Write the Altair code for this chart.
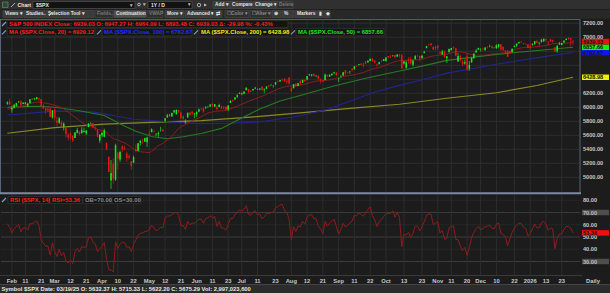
import altair as alt
import pandas as pd

FONT = "Liberation Sans"
BG = "#1c1c1c"
GRID = "#2d2d2d"
AXTXT = "#c8c8c8"
UP = "#1ee61e"
DOWN = "#e81616"

# ---------------- data ----------------
# trading-day index (0 = 2025-02-03); bars 2025-01-30 .. 2026-01-30
bar_index = list(range(-2, 250))
opens = [
    6050, 6082, 5970, 5990, 6021, 6073, 6083, 6047, 6050, 6020,
    6061, 6115, 6121, 6118, 6134, 6115, 6027, 5983, 5971, 5981,
    5857, 5968, 5812, 5781, 5786, 5726, 5705, 5604, 5624, 5595,
    5563, 5636, 5655, 5632, 5646, 5630, 5718, 5772, 5772, 5696,
    5679, 5527, 5597, 5580, 5492, 5293, 4953, 5194, 4966, 5354,
    5256, 5441, 5412, 5335, 5305, 5232, 5207, 5395, 5381, 5490,
    5530, 5508, 5500, 5626, 5645, 5655, 5606, 5618, 5663, 5679,
    5807, 5854, 5887, 5870, 5929, 5903, 5960, 5924, 5842, 5781,
    5854, 5925, 5939, 5903, 5897, 5939, 5979, 5985, 5988, 6005,
    6010, 6050, 6009, 6000, 6005, 6012, 5987, 6004, 5970, 6062,
    6105, 6112, 6151, 6193, 6187, 6193, 6246, 6259, 6238, 6244,
    6268, 6255, 6255, 6293, 6254, 6264, 6310, 6304, 6306, 6327,
    6369, 6370, 6397, 6409, 6375, 6427, 6271, 6272, 6337, 6305,
    6379, 6351, 6389, 6398, 6460, 6452, 6478, 6445, 6452, 6406,
    6384, 6389, 6458, 6441, 6458, 6489, 6497, 6408, 6444, 6456,
    6529, 6499, 6503, 6551, 6545, 6590, 6603, 6624, 6609, 6632,
    6643, 6660, 6696, 6669, 6613, 6617, 6662, 6661, 6665, 6732,
    6722, 6734, 6746, 6727, 6754, 6743, 6626, 6564, 6684, 6688,
    6608, 6686, 6736, 6734, 6701, 6774, 6845, 6896, 6910, 6864,
    6868, 6882, 6786, 6755, 6801, 6699, 6787, 6818, 6861, 6843,
    6653, 6732, 6652, 6625, 6731, 6553, 6640, 6705, 6782, 6823,
    6812, 6831, 6815, 6866, 6867, 6873, 6841, 6846, 6866, 6900,
    6866, 6813, 6810, 6802, 6788, 6865, 6880, 6914, 6935, 6915,
    6903, 6897, 6874, 6891, 6903, 6946, 6914, 6932, 6944, 6977,
    6937, 6970, 6960, 6853, 6803, 6900, 6890, 6925, 6962, 6992,
    6987, 6947]
highs = [
    6086, 6120, 6022, 6043, 6063, 6084, 6101, 6073, 6076, 6064,
    6116, 6127, 6130, 6147, 6134, 6119, 6044, 5993, 6009, 5994,
    5960, 5987, 5865, 5860, 5812, 5783, 5705, 5636, 5642, 5597,
    5646, 5704, 5659, 5715, 5711, 5670, 5775, 5787, 5776, 5732,
    5685, 5613, 5651, 5696, 5500, 5293, 5247, 5268, 5481, 5354,
    5381, 5460, 5450, 5367, 5329, 5233, 5310, 5469, 5489, 5528,
    5554, 5565, 5581, 5659, 5700, 5683, 5634, 5655, 5721, 5691,
    5845, 5907, 5906, 5925, 5959, 5968, 5962, 5938, 5879, 5830,
    5924, 5930, 5944, 5922, 5938, 5982, 5991, 5999, 6016, 6021,
    6043, 6059, 6046, 6026, 6051, 6024, 6018, 6019, 6028, 6101,
    6108, 6146, 6188, 6215, 6211, 6227, 6284, 6262, 6242, 6264,
    6291, 6269, 6271, 6302, 6268, 6300, 6316, 6336, 6316, 6360,
    6382, 6390, 6402, 6410, 6394, 6427, 6288, 6330, 6347, 6350,
    6379, 6396, 6402, 6446, 6481, 6473, 6482, 6457, 6456, 6408,
    6394, 6481, 6467, 6468, 6486, 6508, 6498, 6418, 6460, 6503,
    6533, 6508, 6513, 6555, 6589, 6601, 6616, 6626, 6639, 6657,
    6672, 6695, 6699, 6669, 6624, 6650, 6679, 6690, 6716, 6733,
    6750, 6745, 6748, 6757, 6756, 6764, 6660, 6666, 6718, 6724,
    6685, 6744, 6752, 6741, 6750, 6807, 6876, 6901, 6920, 6873,
    6871, 6885, 6796, 6820, 6808, 6733, 6838, 6847, 6869, 6844,
    6775, 6749, 6677, 6682, 6771, 6660, 6715, 6777, 6828, 6849,
    6844, 6851, 6862, 6867, 6895, 6880, 6862, 6900, 6904, 6902,
    6867, 6819, 6820, 6804, 6839, 6882, 6910, 6937, 6946, 6917,
    6912, 6902, 6910, 6915, 6945, 6965, 6933, 6978, 6986, 6986,
    6941, 6980, 6967, 6866, 6893, 6933, 6920, 6960, 6981, 7002,
    6990, 6964]
lows = [
    6035, 6031, 5923, 5988, 6010, 6061, 6020, 6045, 6043, 6004,
    6051, 6107, 6100, 6111, 6084, 6009, 5977, 5908, 5932, 5858,
    5837, 5810, 5733, 5762, 5724, 5667, 5565, 5528, 5547, 5505,
    5562, 5627, 5597, 5622, 5640, 5603, 5718, 5765, 5695, 5670,
    5573, 5489, 5572, 5571, 5390, 5070, 4835, 4911, 4949, 5115,
    5220, 5359, 5387, 5221, 5255, 5101, 5207, 5356, 5371, 5455,
    5479, 5506, 5434, 5597, 5644, 5637, 5586, 5578, 5651, 5650,
    5788, 5854, 5868, 5867, 5912, 5895, 5919, 5831, 5827, 5768,
    5854, 5885, 5879, 5843, 5861, 5931, 5967, 5922, 5978, 5994,
    6005, 6002, 6004, 5963, 6004, 5974, 5971, 5952, 5943, 6062,
    6081, 6107, 6132, 6193, 6172, 6188, 6241, 6201, 6218, 6234,
    6259, 6247, 6244, 6242, 6202, 6262, 6286, 6303, 6282, 6316,
    6357, 6366, 6376, 6360, 6331, 6327, 6212, 6272, 6290, 6301,
    6312, 6350, 6365, 6385, 6447, 6441, 6439, 6436, 6397, 6343,
    6361, 6386, 6438, 6432, 6457, 6471, 6444, 6360, 6418, 6447,
    6455, 6483, 6478, 6513, 6539, 6577, 6598, 6599, 6569, 6621,
    6637, 6660, 6651, 6627, 6583, 6611, 6644, 6658, 6651, 6702,
    6706, 6723, 6699, 6720, 6712, 6551, 6610, 6551, 6622, 6610,
    6583, 6686, 6717, 6655, 6700, 6774, 6845, 6876, 6870, 6820,
    6820, 6815, 6755, 6749, 6708, 6632, 6787, 6808, 6826, 6727,
    6647, 6658, 6589, 6610, 6525, 6522, 6640, 6691, 6782, 6822,
    6799, 6810, 6812, 6840, 6858, 6836, 6839, 6834, 6841, 6802,
    6802, 6774, 6720, 6766, 6786, 6857, 6863, 6911, 6924, 6896,
    6893, 6845, 6822, 6880, 6893, 6920, 6885, 6925, 6934, 6938,
    6885, 6934, 6925, 6790, 6777, 6890, 6885, 6925, 6957, 6966,
    6870, 6893]
closes = [
    6071, 6041, 5995, 6038, 6061, 6084, 6026, 6066, 6069, 6052,
    6115, 6115, 6130, 6144, 6118, 6013, 5983, 5955, 5956, 5862,
    5955, 5850, 5778, 5843, 5739, 5770, 5615, 5572, 5599, 5522,
    5639, 5675, 5615, 5675, 5663, 5668, 5768, 5777, 5712, 5693,
    5581, 5612, 5633, 5671, 5397, 5074, 5062, 4983, 5457, 5268,
    5363, 5406, 5397, 5276, 5283, 5158, 5288, 5376, 5485, 5525,
    5529, 5561, 5569, 5604, 5687, 5650, 5607, 5631, 5664, 5660,
    5844, 5887, 5893, 5917, 5958, 5964, 5940, 5845, 5842, 5803,
    5922, 5889, 5912, 5912, 5936, 5970, 5971, 5939, 6000, 6006,
    6039, 6022, 6045, 5977, 6033, 5983, 5981, 5968, 6025, 6092,
    6092, 6141, 6173, 6205, 6198, 6227, 6279, 6230, 6226, 6263,
    6280, 6260, 6269, 6244, 6264, 6297, 6297, 6306, 6310, 6359,
    6363, 6389, 6390, 6371, 6363, 6339, 6238, 6330, 6299, 6345,
    6340, 6389, 6373, 6446, 6467, 6469, 6450, 6449, 6411, 6396,
    6370, 6467, 6439, 6466, 6481, 6502, 6460, 6416, 6448, 6502,
    6482, 6495, 6513, 6532, 6587, 6584, 6615, 6607, 6600, 6632,
    6664, 6694, 6657, 6638, 6605, 6644, 6661, 6688, 6711, 6715,
    6716, 6740, 6715, 6754, 6735, 6553, 6655, 6644, 6671, 6629,
    6664, 6735, 6735, 6699, 6738, 6792, 6875, 6891, 6891, 6822,
    6840, 6852, 6772, 6796, 6720, 6729, 6832, 6847, 6851, 6737,
    6734, 6672, 6617, 6642, 6539, 6603, 6705, 6766, 6813, 6849,
    6813, 6829, 6850, 6857, 6870, 6847, 6841, 6887, 6901, 6827,
    6817, 6800, 6721, 6775, 6835, 6878, 6910, 6932, 6930, 6906,
    6896, 6846, 6858, 6902, 6945, 6921, 6921, 6966, 6977, 6964,
    6927, 6944, 6940, 6797, 6876, 6913, 6916, 6950, 6979, 6978,
    6969, 6939]
# closes of the sessions just before the first bar (warm-up for MA20 / RSI)
prior_closes = [5882, 5869, 5942, 5975, 5909, 5918, 5827, 5836, 5843, 5950,
                5937, 5997, 6049, 6086, 6119, 6101, 6012, 6068, 6039]

# longer moving averages
ma50_idx = [-2, 5, 12, 19, 23, 30, 41, 49, 55, 62, 69, 76, 84, 93, 102, 110,
            119, 128, 142, 157, 172, 183, 193, 204, 215, 226, 237, 249]
ma50_val = [6000, 6010, 6014, 6000, 5982, 5950, 5883, 5748, 5659, 5583, 5550,
            5579, 5625, 5699, 5846, 5977, 6089, 6168, 6296, 6414, 6518, 6595,
            6670, 6713, 6756, 6790, 6823, 6858]
ma100_idx = [-2, 19, 36, 54, 71, 84, 97, 110, 128, 140, 150, 161, 172, 183,
             193, 204, 215, 226, 237, 249]
ma100_val = [5890, 5945, 5935, 5830, 5790, 5767, 5772, 5790, 5879, 5970, 6086,
             6218, 6313, 6400, 6488, 6550, 6615, 6672, 6727, 6783]
ma200_idx = [-2, 19, 41, 62, 84, 106, 128, 150, 172, 193, 215, 233, 249]
ma200_val = [5630, 5710, 5760, 5785, 5810, 5860, 5920, 5985, 6043, 6130, 6208,
             6311, 6429]

x_tick_idx = [0, 6, 13, 19, 26, 33, 40, 47, 54, 61, 68, 75, 82, 89, 96, 102,
              109, 117, 124, 131, 138, 145, 152, 159, 166, 174, 182, 189, 195,
              202, 208, 215, 223, 230, 237, 244]
x_tick_lbl = ["Feb", "11", "21", "Mar", "12", "21", "Apr", "10", "22", "May",
              "12", "21", "Jun", "11", "23", "Jul", "11", "23", "Aug", "12",
              "21", "Sep", "11", "22", "Oct", "13", "23", "Nov", "11", "20",
              "Dec", "10", "22", "2026", "13", "23"]

price_grid = [5000, 5200, 5400, 5600, 5800, 6000, 6200, 6400, 6600, 6800, 7000, 7200]
price_labels = [7200, 7000, 6200, 6000, 5800, 5600, 5400, 5200, 5000]
rsi_grid_major = [70, 50, 30]
rsi_grid_minor = [80, 60, 40]
rsi_labels = [80, 60, 50, 40]
rsi_ob, rsi_os = 70.0, 30.0

last_quote = {"close": 6939.03, "open": 6947.27, "high": 6964.09, "low": 6893.48,
              "chg": -29.98, "pct": -0.43}
ma_last = {"20": 6929.12, "100": 6782.67, "200": 6428.98, "50": 6857.66}
rsi_last = 53.36
cursor = {"date": "03/19/25", "o": 5632.37, "h": 5715.33, "l": 5622.20,
          "c": 5675.29, "vol": "2,997,023,600"}

for arr in (opens, highs, lows, closes):
    assert len(arr) == len(bar_index), len(arr)

# ---------------- indicators (MA20, Wilder RSI 14) ----------------
n_prior = len(prior_closes)
allc = pd.Series(prior_closes + closes, dtype=float)
ma20 = allc.rolling(20).mean().iloc[n_prior:].to_numpy()
d = allc.diff().fillna(0.0)
g = d.clip(lower=0).to_numpy()
ls = (-d).clip(lower=0).to_numpy()
N = 14
ag = g[1:N + 1].mean()
al = ls[1:N + 1].mean()
rsi_all = [float("nan")] * len(allc)
rsi_all[N] = 100 - 100 / (1 + ag / al)
for k in range(N + 1, len(allc)):
    ag = (ag * (N - 1) + g[k]) / N
    al = (al * (N - 1) + ls[k]) / N
    rsi_all[k] = 100 - 100 / (1 + ag / al) if al > 0 else 100.0
rsi = rsi_all[n_prior:]

bars = pd.DataFrame({"i": bar_index, "o": opens, "h": highs, "l": lows, "c": closes,
                     "ma20": ma20, "rsi": rsi})
bars["dir"] = ["up" if c >= o else "down" for o, c in zip(opens, closes)]

# ---------------- scales ----------------
xs = alt.Scale(domain=[-7 / 2.291, (610 - 7) / 2.291], nice=False, zero=False)
ps = alt.Scale(domain=[3347.1, 7532.9], nice=False, zero=False)
rs = alt.Scale(domain=[4.286, 243.47], nice=False, zero=False)


def X(f="i"):
    return alt.X(f"{f}:Q", scale=xs, axis=None)


def PY(f):
    return alt.Y(f"{f}:Q", scale=ps, axis=None)


def RY(f):
    return alt.Y(f"{f}:Q", scale=rs, axis=None)


one = pd.DataFrame({"k": [0]})


def rect(x1, x2, y1, y2, fill, stroke=None, sw=0.7):
    kw = {"fill": fill}
    if stroke is not None:
        kw["stroke"] = stroke
        kw["strokeWidth"] = sw
    return alt.Chart(one).mark_rect(**kw).encode(
        x=alt.value(x1), x2=alt.value(x2), y=alt.value(y1), y2=alt.value(y2))


def txt(s, x, y, color, size=6.0, weight="bold", align="left"):
    return alt.Chart(one).mark_text(
        text=s, align=align, baseline="middle", font=FONT, fontSize=size,
        fontWeight=weight, color=color).encode(x=alt.value(x), y=alt.value(y))


def rule(x1, y1, x2, y2, color, w=1.0):
    return alt.Chart(one).mark_rule(color=color, strokeWidth=w).encode(
        x=alt.value(x1), y=alt.value(y1), x2=alt.value(x2), y2=alt.value(y2))


def pen(x, y):
    return rule(x - 2, y + 2, x + 2, y - 2, "#7fa6d0", 1.1)


def button(x1, x2, label, y1, y2, ty, color="#e2e2e2", fill="#3a3a3a"):
    return [rect(x1, x2, y1, y2, fill, "#4c4c4c", 0.6),
            txt(label, x1 + 2, ty, color, 4.8)]


BUB = "M-1,-0.204L1,-0.204L1,0.204L-1,0.204Z"
xt_df = pd.DataFrame({"i": x_tick_idx, "t": x_tick_lbl})
dir_color = alt.Color("dir:N", scale=alt.Scale(domain=["up", "down"], range=[UP, DOWN]),
                      legend=None)

# ---------------- chrome behind ----------------
back = [
    rect(0, 610, 0, 9.5, "#303030"),
    rect(0, 610, 9.5, 18.8, "#282828"),
    rect(0, 610, 284.5, 293, "#2c2c2c"),
    rule(0, 284.5, 610, 284.5, "#444444"),
    rule(0, 9.5, 610, 9.5, "#202020"),
]

# ---------------- price panel ----------------
price_layers = [
    alt.Chart(pd.DataFrame({"v": price_grid})).mark_rule(color=GRID).encode(
        y=PY("v"), x=alt.value(1), x2=alt.value(580)),
    alt.Chart(xt_df).mark_rule(color=GRID).encode(
        x=X(), y=alt.value(20), y2=alt.value(192.5)),
    alt.Chart(pd.DataFrame({"i": ma200_idx, "v": ma200_val})).mark_line(
        color="#8a8a24", strokeWidth=1.1).encode(x=X(), y=PY("v")),
    alt.Chart(pd.DataFrame({"i": ma100_idx, "v": ma100_val})).mark_line(
        color="#24248e", strokeWidth=1.1).encode(x=X(), y=PY("v")),
    alt.Chart(pd.DataFrame({"i": ma50_idx, "v": ma50_val})).mark_line(
        color="#267a26", strokeWidth=1.1).encode(x=X(), y=PY("v")),
    alt.Chart(bars).mark_line(color="#8c1e1e", strokeWidth=1.0).encode(
        x=X(), y=PY("ma20")),
    alt.Chart(bars).mark_rule(strokeWidth=0.7).encode(
        x=X(), y=PY("l"), y2=alt.Y2("h"), color=dir_color),
    alt.Chart(bars).mark_bar(width=1.5).encode(
        x=X(), y=PY("o"), y2=alt.Y2("c"), color=dir_color),
    alt.Chart(pd.DataFrame({"v": price_labels})).mark_text(
        align="left", baseline="middle", font=FONT, fontSize=5.6, fontWeight="bold",
        color=AXTXT).encode(x=alt.value(583), y=PY("v"), text=alt.Text("v:Q", format=".2f")),
]
for val, fill in [(ma_last["200"], "#f0f000"), (ma_last["100"], "#1414ee"),
                  (ma_last["50"], "#14ee14"), (last_quote["close"], "#f01010")]:
    dfv = pd.DataFrame({"v": [val]})
    price_layers.append(alt.Chart(dfv).mark_point(
        shape=BUB, size=729, filled=True, opacity=1, color=fill, strokeWidth=0).encode(
        x=alt.value(595.5), y=PY("v")))
    price_layers.append(alt.Chart(dfv).mark_text(
        align="left", baseline="middle", font=FONT, fontSize=5.6, fontWeight="bold",
        color="#141414").encode(x=alt.value(583), y=PY("v"),
                                text=alt.Text("v:Q", format=".2f")))
price = alt.layer(*price_layers)

# ---------------- RSI panel ----------------
rsi_layers = [
    alt.Chart(pd.DataFrame({"v": rsi_grid_minor})).mark_rule(color="#262626").encode(
        y=RY("v"), x=alt.value(1), x2=alt.value(580)),
    alt.Chart(pd.DataFrame({"v": rsi_grid_major})).mark_rule(color="#3c3c3c").encode(
        y=RY("v"), x=alt.value(1), x2=alt.value(580)),
    alt.Chart(xt_df).mark_rule(color=GRID).encode(
        x=X(), y=alt.value(195), y2=alt.value(275)),
    alt.Chart(bars).mark_line(color="#8c1c1c", strokeWidth=1.0).encode(
        x=X(), y=RY("rsi")),
    alt.Chart(pd.DataFrame({"v": rsi_labels})).mark_text(
        align="left", baseline="middle", font=FONT, fontSize=5.6, fontWeight="bold",
        color=AXTXT).encode(x=alt.value(583), y=RY("v"), text=alt.Text("v:Q", format=".2f")),
]
for val, fill, tc in [(rsi_ob, "#4e4e4e", "#bdbdbd"), (rsi_os, "#4e4e4e", "#bdbdbd"),
                      (rsi_last, "#f01010", "#141414")]:
    dfv = pd.DataFrame({"v": [val]})
    rsi_layers.append(alt.Chart(dfv).mark_point(
        shape=BUB, size=729, filled=True, opacity=1, color=fill, strokeWidth=0).encode(
        x=alt.value(595.5), y=RY("v")))
    rsi_layers.append(alt.Chart(dfv).mark_text(
        align="left", baseline="middle", font=FONT, fontSize=5.6, fontWeight="bold",
        color=tc).encode(x=alt.value(583), y=RY("v"), text=alt.Text("v:Q", format=".2f")))
rsi_panel = alt.layer(*rsi_layers)

xlabels = alt.Chart(xt_df).mark_text(
    align="center", baseline="middle", font=FONT, fontSize=5.8, fontWeight="bold",
    color=AXTXT).encode(x=X(), y=alt.value(280.5), text="t:N")

# ---------------- chrome in front ----------------
front = [
    # panel frames
    rule(0, 19.5, 580, 19.5, "#4e5d75", 1),
    rule(0.5, 19.5, 0.5, 193, "#56657d", 1),
    rule(580, 19.5, 580, 193, "#56657d", 1),
    rule(0, 193.3, 581, 193.3, "#7c8aa2", 2),
    rule(0, 275.5, 582, 275.5, "#3a3a3a", 1),
    # title bar
    rect(2.5, 8, 2, 7.5, "#2a4a34", "#6a9a72", 0.6),
    rule(11, 7, 15, 3, "#9ab0c8", 1),
    txt("Chart", 17.5, 5, "#e8e8e8", 5.2),
    rect(33, 135, 1.5, 8.5, "#121212", "#585858", 0.6),
    txt("$SPX", 36, 5, "#e8e8e8", 5.0),
    txt("▾", 130, 5, "#b0b0b0", 5.0),
    alt.Chart(one).mark_point(shape="circle", size=7, color="#d0d0d0", strokeWidth=0.8,
                              opacity=1).encode(x=alt.value(139), y=alt.value(4.5)),
    txt("▾", 142.5, 5, "#b0b0b0", 4.5),
    rect(148, 192, 1.5, 8.5, "#121212", "#585858", 0.6),
    txt("1Y / D", 151, 5, "#e8e8e8", 5.0),
    txt("▾", 188, 5, "#b0b0b0", 4.5),
    alt.Chart(one).mark_point(shape="circle", size=12, color="#c8c8c8", strokeWidth=0.8,
                              opacity=1).encode(x=alt.value(199), y=alt.value(5)),
    alt.Chart(one).mark_point(shape="triangle-right", size=10, color="#c8c8c8", filled=True,
                              opacity=1).encode(x=alt.value(205.5), y=alt.value(5)),
]
front += button(213, 230, "Add ▾", 1.5, 8.5, 5)
front += button(230, 252, "Compare", 1.5, 8.5, 5)
front += button(253, 276, "Change ▾", 1.5, 8.5, 5)
front += button(277, 293, "Delete", 1.5, 8.5, 5, color="#7a7a7a", fill="#2e2e2e")
# second toolbar row
front += button(3, 23, "Views ▾", 10.5, 17.5, 14)
front += button(24, 45, "Studies...", 10.5, 17.5, 14)
front += button(46, 94, "    Selection Tool ▾", 10.5, 17.5, 14)
front.append(rule(49, 16, 52, 12, "#d0d0d0", 1))
front += button(95, 113, "Fields...", 10.5, 17.5, 14, color="#7a7a7a", fill="#2e2e2e")
front += button(114, 146, "Continuation", 10.5, 17.5, 14, fill="#505050")
front += button(147, 163, "VWAP", 10.5, 17.5, 14, color="#7a7a7a", fill="#2e2e2e")
front += button(165, 184, "More ▾", 10.5, 17.5, 14)
front += button(185, 213, "Advanced ▾", 10.5, 17.5, 14)
front += button(214, 222, "⇄", 10.5, 17.5, 14)
front += button(225, 249, "☐Color ▾", 10.5, 17.5, 14, color="#8a8a8a", fill="#2e2e2e")
front += button(250, 271, "☐Alter ▾", 10.5, 17.5, 14, color="#8a8a8a", fill="#2e2e2e")
front += button(272, 281, "⊕", 10.5, 17.5, 14)
front += button(282, 294, "%", 10.5, 17.5, 14)
front += button(295, 316, "Markers ▾", 10.5, 17.5, 14)
front += button(317, 323, "▮", 10.5, 17.5, 14)
front += button(324, 330, "◆", 10.5, 17.5, 14)

# study legends (price panel)
q = last_quote
legend1 = (f"S&P 500 INDEX  Close: {q['close']:.2f}  O: {q['open']:.2f}  H: {q['high']:.2f}  "
           f"L: {q['low']:.2f}  C: {q['close']:.2f}  Δ: {q['chg']:.2f}  %: {q['pct']:.2f}%")
front += [pen(4, 24), rect(7, 288, 20.4, 27.6, "#141414", "#3c3c3c", 0.6),
          txt(legend1, 9, 24, "#ff1e1e", 5.9)]
ma_boxes = [(7, 95, "20", "#ff1e1e"), (102, 192, "100", "#2a2aff"),
            (199, 288, "200", "#eeee10"), (296, 384, "50", "#1ee61e")]
for x1, x2, per, col in ma_boxes:
    front += [pen(x1 - 3, 32.3), rect(x1, x2, 28.6, 36, "#141414", "#3c3c3c", 0.6),
              txt(f"MA ($SPX.Close, {per}) = {ma_last[per]:.2f}", x1 + 2, 32.3, col, 5.9)]

# RSI legend
front += [pen(4, 200),
          rect(8, 49, 196.6, 203.6, "#141414", "#3c3c3c", 0.6),
          txt("RSI ($SPX, 14)", 10, 200.1, "#ff1e1e", 5.9),
          rect(50, 82, 196.6, 203.6, "#141414", "#3c3c3c", 0.6),
          txt(f"RSI={rsi_last:.2f}", 52, 200.1, "#ff1e1e", 5.9),
          rect(83, 111, 196.6, 203.6, "#141414", "#3c3c3c", 0.6),
          txt(f"OB={rsi_ob:.2f}", 85, 200.1, "#8a8a8a", 5.9),
          rect(112, 141, 196.6, 203.6, "#141414", "#3c3c3c", 0.6),
          txt(f"OS={rsi_os:.2f}", 114, 200.1, "#8a8a8a", 5.9)]

# x-axis aggregation label and status bar
c = cursor
status = (f"Symbol $SPX  Date: {c['date']}  O: {c['o']:.2f}  H: {c['h']:.2f}  "
          f"L: {c['l']:.2f}  C: {c['c']:.2f}  Vol: {c['vol']}")
front += [txt("Daily", 586, 280.5, AXTXT, 5.8), txt(status, 1.5, 288.8, "#e6e6e6", 5.8)]

chart = alt.layer(*back, price, rsi_panel, xlabels, *front).resolve_scale(
    y="independent"
).properties(
    width=610, height=293, padding=0, autosize="none", background=BG
).configure_view(stroke=None)

chart.save("out.html", embed_options={"renderer": "svg", "actions": False})
